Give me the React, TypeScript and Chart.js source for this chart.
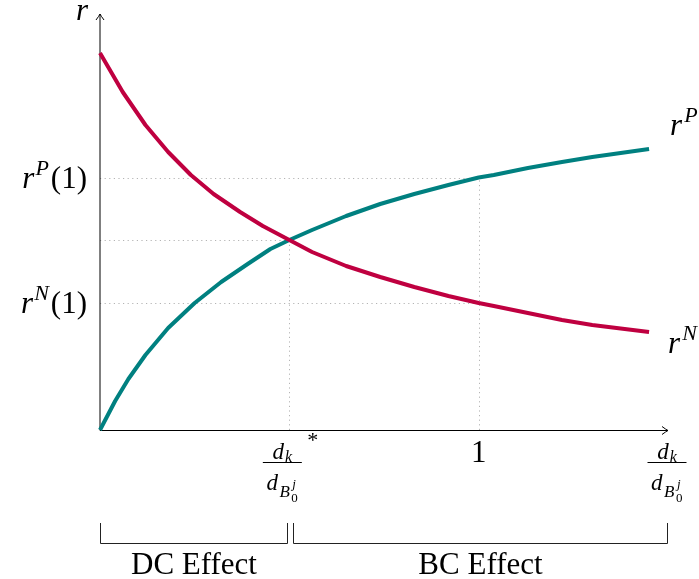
import React, { useEffect, useRef } from "react";
import { Chart, registerables } from "chart.js";

Chart.register(...registerables);

// ---- data ----
const rNx = [0, 0.06, 0.12, 0.18, 0.24, 0.30, 0.37, 0.43, 0.50, 0.56, 0.65, 0.74, 0.83, 0.92, 1.00, 1.04, 1.13, 1.22, 1.30, 1.45];
const rNy = [3.77, 3.38, 3.05, 2.78, 2.55, 2.36, 2.18, 2.04, 1.90, 1.78, 1.64, 1.53, 1.43, 1.34, 1.27, 1.24, 1.17, 1.10, 1.05, 0.98];

const rPx = [0, 0.04, 0.075, 0.12, 0.18, 0.25, 0.32, 0.39, 0.45, 0.50, 0.56, 0.65, 0.74, 0.83, 0.92, 1.00, 1.04, 1.13, 1.22, 1.30, 1.45];
const rPy = [0, 0.29, 0.51, 0.75, 1.02, 1.27, 1.48, 1.66, 1.81, 1.90, 2.00, 2.14, 2.26, 2.36, 2.45, 2.525, 2.55, 2.62, 2.68, 2.73, 2.81];

const xMax = 1.5;
const yMax = 4.16;

// y tick values: r^P(1), r^N(1)
const yTickValues = [2.525, 1.27];
const yTickSups = ["P", "N"];
// crossing point
const crossX = 0.5;
const crossY = 1.9;
// x ticks
const xTickValues = [0.5, 1, 1.5];
const xTickLabels = ["frac*", "1", "frac"];
// effect brackets
const braceStarts = [0, 0.5];
const braceEnds = [0.5, 1.5];
const braceLabels = ["DC Effect", "BC Effect"];
// series
const seriesSups = ["N", "P"];
const seriesColors = ["#BF0040", "#008080"];

const SERIF = '"Liberation Serif", "DejaVu Serif", serif';
const MAIN = 31;
const SUP = 22;

type Part = { t: string; it?: boolean; size: number; dy?: number; gap?: number };

function drawParts(ctx: CanvasRenderingContext2D, parts: Part[], x: number, y: number, align: "left" | "right" | "center") {
  const widths: number[] = [];
  for (const p of parts) {
    ctx.font = `${p.it ? "italic " : ""}${p.size}px ${SERIF}`;
    widths.push(ctx.measureText(p.t).width + (p.gap || 0));
  }
  const total = widths.reduce((a, b) => a + b, 0);
  let cx = align === "left" ? x : align === "right" ? x - total : x - total / 2;
  ctx.textAlign = "left";
  ctx.textBaseline = "alphabetic";
  parts.forEach((p, i) => {
    ctx.font = `${p.it ? "italic " : ""}${p.size}px ${SERIF}`;
    ctx.fillText(p.t, cx, y + (p.dy || 0));
    cx += widths[i];
  });
}

function drawFrac(ctx: CanvasRenderingContext2D, cx: number, lineY: number) {
  ctx.save();
  ctx.fillStyle = "#000";
  // numerator d_k
  drawParts(ctx, [{ t: "d", it: true, size: 23, gap: 1 }, { t: "k", it: true, size: 16, dy: 3 }], cx, lineY - 3, "center");
  // line
  ctx.strokeStyle = "#000";
  ctx.lineWidth = 1;
  ctx.beginPath();
  ctx.moveTo(cx - 19.5, Math.round(lineY) + 0.5);
  ctx.lineTo(cx + 19.5, Math.round(lineY) + 0.5);
  ctx.stroke();
  // denominator d_{B_0^j}
  ctx.font = `italic 23px ${SERIF}`;
  const wd = ctx.measureText("d").width;
  ctx.font = `italic 17px ${SERIF}`;
  const wb = ctx.measureText("B").width;
  const wj = 7;
  const total = wd + wb + wj + 3;
  let x0 = cx - total / 2;
  const base = lineY + 28;
  ctx.textAlign = "left";
  ctx.font = `italic 23px ${SERIF}`;
  ctx.fillText("d", x0, base);
  x0 += wd + 1.5;
  ctx.font = `italic 17px ${SERIF}`;
  ctx.fillText("B", x0, base + 7);
  x0 += wb + 1.5;
  ctx.font = `italic 13px ${SERIF}`;
  ctx.fillText("j", x0 + 1, base - 2);
  ctx.font = `13px ${SERIF}`;
  ctx.fillText("0", x0, base + 12);
  ctx.restore();
}

function arrowHead(ctx: CanvasRenderingContext2D, x: number, y: number, dir: "up" | "right") {
  ctx.beginPath();
  if (dir === "up") {
    ctx.moveTo(x - 4, y + 6);
    ctx.quadraticCurveTo(x - 1, y + 2, x, y);
    ctx.quadraticCurveTo(x + 1, y + 2, x + 4, y + 6);
  } else {
    ctx.moveTo(x - 6, y - 4);
    ctx.quadraticCurveTo(x - 2, y - 1, x, y);
    ctx.quadraticCurveTo(x - 2, y + 1, x - 6, y + 4);
  }
  ctx.stroke();
}

const decorPlugin = {
  id: "decor",
  beforeDatasetsDraw(chart: any) {
    const ctx: CanvasRenderingContext2D = chart.ctx;
    const xs = chart.scales.x;
    const ys = chart.scales.y;
    const px = (v: number) => xs.getPixelForValue(v);
    const py = (v: number) => ys.getPixelForValue(v);
    ctx.save();
    // dotted guides
    ctx.strokeStyle = "#b4b4b4";
    ctx.lineWidth = 1;
    ctx.setLineDash([1.2, 3.4]);
    const seg = (x1: number, y1: number, x2: number, y2: number) => {
      ctx.beginPath();
      ctx.moveTo(x1, y1);
      ctx.lineTo(x2, y2);
      ctx.stroke();
    };
    // r^P(1), r^N(1) horizontal to x=1
    yTickValues.forEach((v) => seg(px(0), Math.round(py(v)) + 0.5, px(xTickValues[1]), Math.round(py(v)) + 0.5));
    // vertical at x=1 up to r^P(1)
    seg(Math.round(px(xTickValues[1])) + 0.5, py(0), Math.round(px(xTickValues[1])) + 0.5, py(yTickValues[0]));
    // crossing guides
    seg(px(0), Math.round(py(crossY)) + 0.5, px(crossX), Math.round(py(crossY)) + 0.5);
    seg(Math.round(px(crossX)) + 0.5, py(0), Math.round(px(crossX)) + 0.5, py(crossY));
    ctx.setLineDash([]);
    // axes
    ctx.strokeStyle = "#000";
    ctx.lineWidth = 1;
    const ox = px(0);
    const oy = Math.round(py(0)) + 0.5;
    seg(ox, oy, px(xMax), oy);
    seg(ox, oy, ox, py(yMax));
    arrowHead(ctx, ox, py(yMax), "up");
    arrowHead(ctx, px(xMax), oy, "right");
    ctx.restore();
  },
  afterDraw(chart: any) {
    const ctx: CanvasRenderingContext2D = chart.ctx;
    const xs = chart.scales.x;
    const ys = chart.scales.y;
    const px = (v: number) => xs.getPixelForValue(v);
    const py = (v: number) => ys.getPixelForValue(v);
    ctx.save();
    ctx.fillStyle = "#000";
    // axis label r
    drawParts(ctx, [{ t: "r", it: true, size: MAIN }], px(0) - 12, py(yMax) + 6, "right");
    // y tick labels
    yTickValues.forEach((v, i) => {
      drawParts(
        ctx,
        [
          { t: "r", it: true, size: MAIN, gap: 1 },
          { t: yTickSups[i], it: true, size: SUP, dy: -13, gap: 2 },
          { t: "(1)", size: MAIN },
        ],
        px(0) - 13,
        py(v) + 10,
        "right"
      );
    });
    // x tick labels
    xTickValues.forEach((v, i) => {
      const lab = xTickLabels[i];
      if (lab === "frac*") {
        drawFrac(ctx, px(v) - 7, 461.5);
        drawParts(ctx, [{ t: "*", size: 22 }], px(v) + 18, 447, "left");
      } else if (lab === "frac") {
        drawFrac(ctx, px(v) - 1, 461.5);
      } else {
        drawParts(ctx, [{ t: lab, size: MAIN }], px(v), 462, "center");
      }
    });
    // end labels
    const ends = [
      { x: rNx[rNx.length - 1], y: rNy[rNy.length - 1], dx: 19, dy: 21 },
      { x: rPx[rPx.length - 1], y: rPy[rPy.length - 1], dx: 21, dy: -14 },
    ];
    ends.forEach((e, i) => {
      drawParts(
        ctx,
        [
          { t: "r", it: true, size: MAIN, gap: 2 },
          { t: seriesSups[i], it: true, size: SUP, dy: -13 },
        ],
        px(e.x) + e.dx,
        py(e.y) + e.dy,
        "left"
      );
    });
    // brackets
    ctx.strokeStyle = "#222";
    ctx.lineWidth = 1;
    braceStarts.forEach((s, i) => {
      const x1 = Math.round(px(s) + (i === 0 ? 0 : 3.5)) + 0.5;
      const x2 = Math.round(px(braceEnds[i]) - (i === 0 ? 2.5 : 1)) + 0.5;
      ctx.beginPath();
      ctx.moveTo(x1, 523);
      ctx.lineTo(x1, 543.5);
      ctx.lineTo(x2, 543.5);
      ctx.lineTo(x2, 523);
      ctx.stroke();
      drawParts(ctx, [{ t: braceLabels[i], size: MAIN }], (x1 + x2) / 2, 574, "center");
    });
    ctx.restore();
  },
};

export default function App() {
  const ref = useRef<HTMLCanvasElement | null>(null);
  useEffect(() => {
    if (!ref.current) return;
    const chart = new Chart(ref.current, {
      type: "scatter",
      data: {
        datasets: [
          {
            label: "rN",
            data: rNx.map((x, i) => ({ x, y: rNy[i] })),
            borderColor: seriesColors[0],
            backgroundColor: seriesColors[0],
            borderWidth: 4,
            showLine: true,
            pointRadius: 0,
            tension: 0,
            borderJoinStyle: "round",
            clip: false,
          } as any,
          {
            label: "rP",
            data: rPx.map((x, i) => ({ x, y: rPy[i] })),
            borderColor: seriesColors[1],
            backgroundColor: seriesColors[1],
            borderWidth: 4,
            showLine: true,
            pointRadius: 0,
            tension: 0,
            borderJoinStyle: "round",
            clip: false,
          } as any,
        ],
      },
      options: {
        animation: false,
        responsive: false,
        devicePixelRatio: 1,
        layout: { padding: { left: 100, right: 31, top: 14, bottom: 149 } },
        plugins: { legend: { display: false }, tooltip: { enabled: false } },
        events: [],
        scales: {
          x: { type: "linear", min: 0, max: xMax, display: false },
          y: { type: "linear", min: 0, max: yMax, display: false },
        },
      },
      plugins: [decorPlugin],
    });
    return () => chart.destroy();
  }, []);
  return (
    <div style={{ position: "absolute", left: 0, top: 0, width: 699, height: 579, background: "#fff" }}>
      <canvas ref={ref} width={699} height={579} style={{ width: 699, height: 579, display: "block" }} />
    </div>
  );
}
